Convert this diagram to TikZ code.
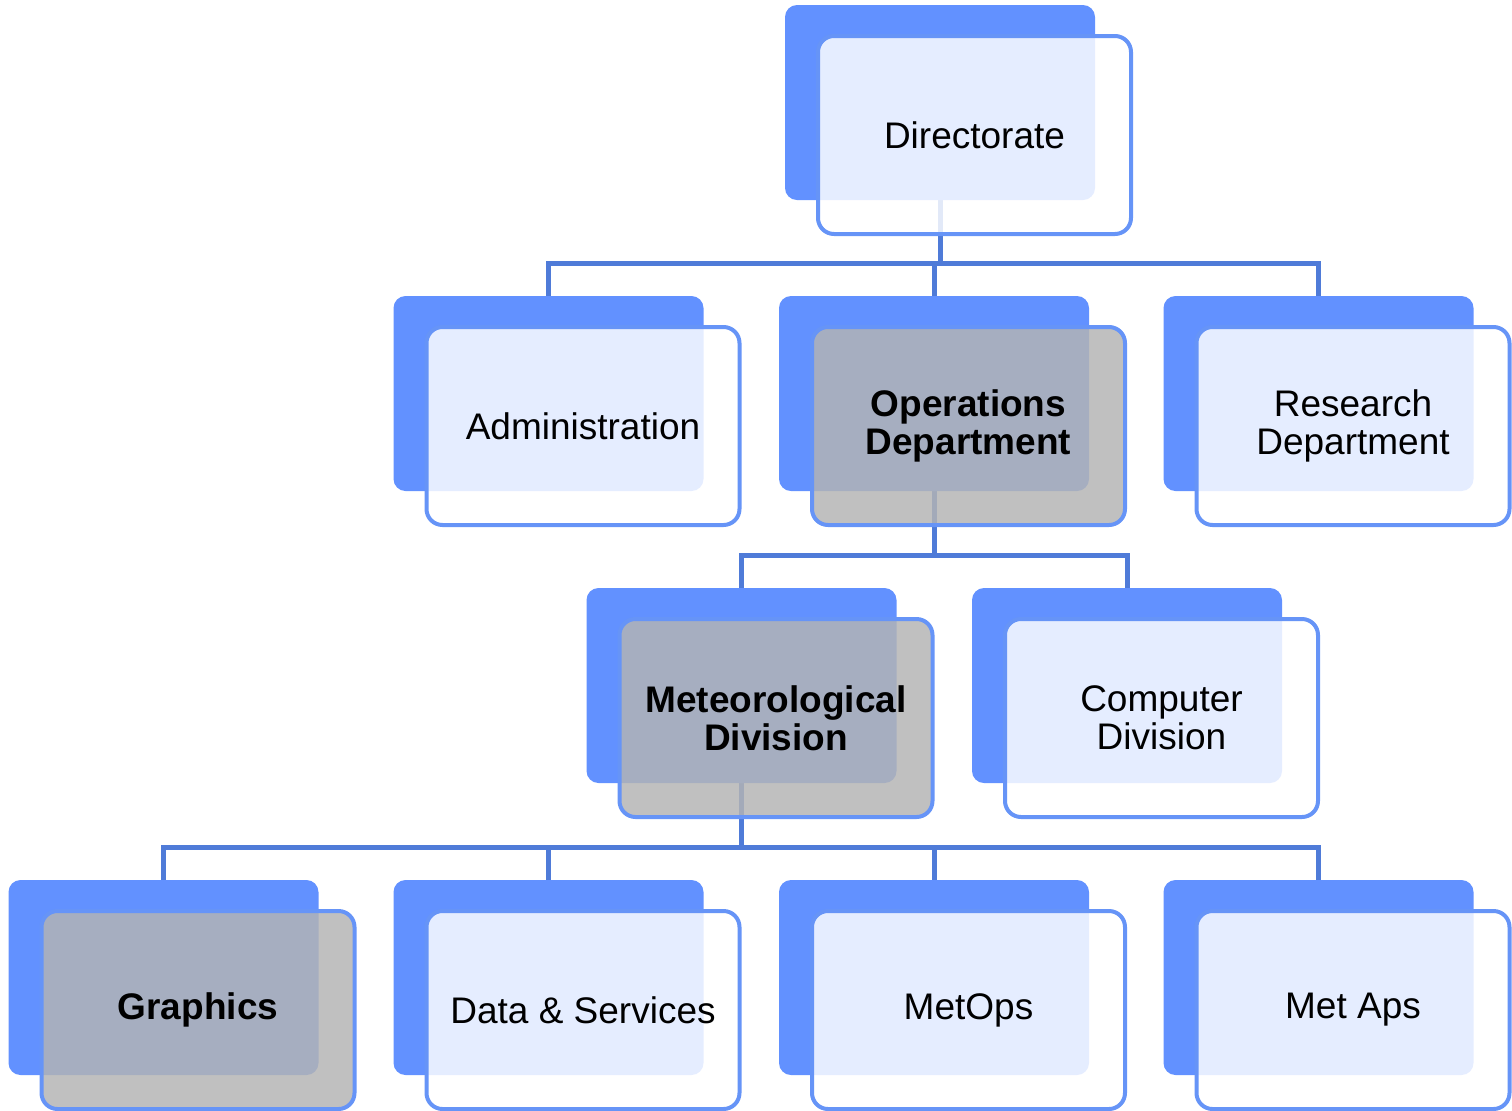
\documentclass[tikz,border=0pt]{standalone}
\usepackage{fontspec}
\setmainfont{Liberation Sans}
\usepackage{xcolor}
\definecolor{orgblue}{HTML}{6291FF}
\definecolor{edgeblue}{HTML}{6694F7}
\definecolor{linkblue}{HTML}{4F7BD8}
\definecolor{hlgray}{HTML}{B4B4B4}
\usepackage{tikz}
\usetikzlibrary{calc,backgrounds}
\pgfdeclarelayer{links}
\pgfsetlayers{links,background,main}

\tikzset{
  unitbox/.style={rectangle,rounded corners=8pt,draw=edgeblue,line width=2pt,
    fill=white,fill opacity=0.84,text opacity=1,minimum width=156.5pt,
    minimum height=99pt,align=center,font=\fontsize{18.5}{19}\selectfont},
  hlbox/.style={unitbox,fill=hlgray,font=\fontsize{18.5}{19}\selectfont\bfseries},
  backbox/.style={rectangle,rounded corners=6pt,fill=orgblue,
    minimum width=155pt,minimum height=97.5pt},
  link/.style={linkblue,line width=2.5pt}
}

\begin{document}
\begin{tikzpicture}[x=0.5pt,y=-0.5pt]
  \useasboundingbox (0,0) rectangle (1512,1110);
  % front boxes
  \node[unitbox] (dir)    at (974.5,135) {Directorate};
  \node[unitbox] (adm)    at (583,426)   {Administration};
  \node[hlbox]   (ops)    at (968.5,426) {Operations\\Department};
  \node[unitbox] (res)    at (1353,426)  {Research\\Department};
  \node[hlbox]   (met)    at (776,718)   {Meteorological\\Division};
  \node[unitbox] (comp)   at (1161.5,718){Computer\\Division};
  \node[hlbox]   (gfx)    at (198,1010)  {Graphics};
  \node[unitbox] (data)   at (583,1010)  {Data \& Services};
  \node[unitbox] (metops) at (968.5,1010){MetOps};
  \node[unitbox] (metaps) at (1353,1010) {Met Aps};
  % blue tabs behind each box
  \begin{scope}[on background layer]
    \foreach \n in {dir,adm,ops,res,met,comp,gfx,data,metops,metaps}
      \node[backbox] (\n-b) at ($(\n.center)+(-34.5,-32.5)$) {};
  \end{scope}
  % tree links
  \begin{pgfonlayer}{links}
    \coordinate (bus1) at (0,263);
    \coordinate (bus2) at (0,555);
    \coordinate (bus3) at (0,847);
    \foreach \c in {adm,ops,res}
      \draw[link] (dir-b.center) -- (dir-b.center |- bus1) -| (\c-b.north);
    \foreach \c in {met,comp}
      \draw[link] (ops-b.center) -- (ops-b.center |- bus2) -| (\c-b.north);
    \foreach \c in {gfx,data,metops,metaps}
      \draw[link] (met-b.center) -- (met-b.center |- bus3) -| (\c-b.north);
  \end{pgfonlayer}
\end{tikzpicture}
\end{document}
